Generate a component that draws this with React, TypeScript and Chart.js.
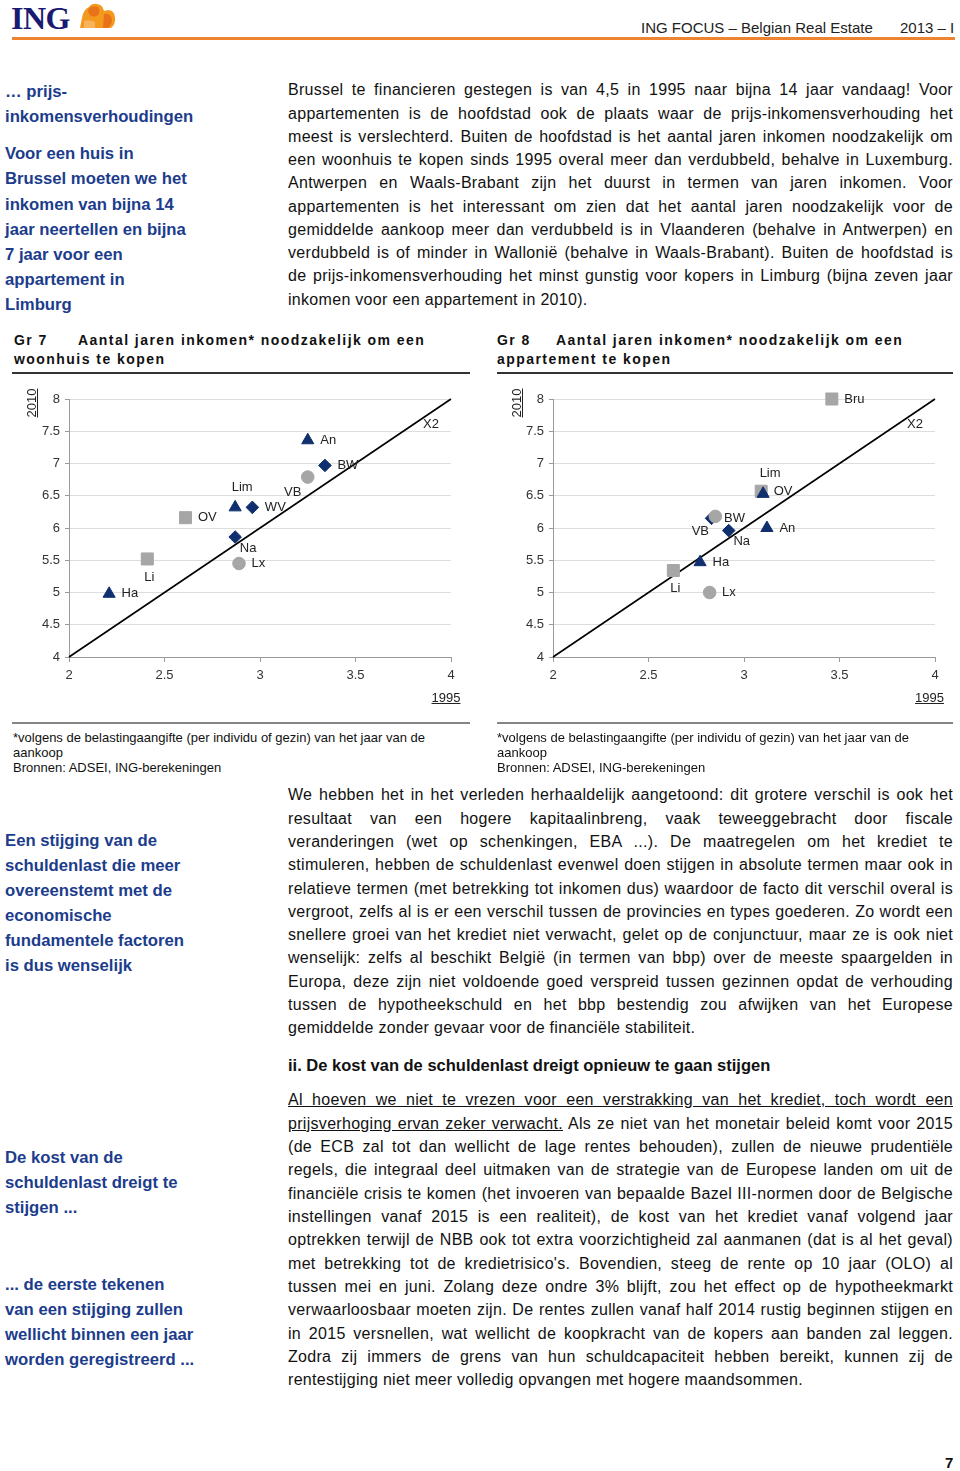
import React, { useEffect, useRef } from 'react';
import { Chart, registerables } from 'chart.js';

Chart.register(...registerables);

// ---------- chart data ----------
const xTickValues = [2, 2.5, 3, 3.5, 4];
const yTickValues = [4, 4.5, 5, 5.5, 6, 6.5, 7, 7.5, 8];

// Gr 7 – woonhuis (years of income, 1995 vs 2010)
const gr7Regions = ['Ha', 'Li', 'OV', 'Lim', 'WV', 'Na', 'Lx', 'VB', 'BW', 'An'];
const gr7Values1995 = [2.21, 2.41, 2.61, 2.87, 2.96, 2.87, 2.89, 3.25, 3.34, 3.25];
const gr7Values2010 = [4.98, 5.52, 6.16, 6.32, 6.32, 5.86, 5.45, 6.79, 6.97, 7.36];

// Gr 8 – appartement
const gr8Regions = ['Ha', 'Li', 'OV', 'Lim', 'Na', 'Lx', 'VB', 'BW', 'An', 'Bru'];
const gr8Values1995 = [2.77, 2.63, 3.09, 3.1, 2.92, 2.82, 2.85, 2.83, 3.12, 3.46];
const gr8Values2010 = [5.47, 5.34, 6.57, 6.53, 5.96, 5.0, 6.18, 6.15, 6.0, 8.0];

// doubling reference line (2010 = 2 x 1995)
const doublingLine1995 = [2, 4];
const doublingLine2010 = [4, 8];
const doublingLabel = 'X2';

const markerGroups = ['triangle', 'square', 'diamond', 'circle'];
const regionGroup: Record<string, string> = {
  Ha: 'triangle', Lim: 'triangle', An: 'triangle',
  Li: 'square', OV: 'square', Bru: 'square',
  Na: 'diamond', WV: 'diamond', BW: 'diamond',
  Lx: 'circle', VB: 'circle',
};
const regionLabelSide: Record<string, string> = {
  Ha: 'right', Li: 'below', OV: 'right', Lim: 'above', WV: 'right', Na: 'belowRight',
  Lx: 'right', VB: 'belowLeft', BW: 'right', An: 'right', Bru: 'right',
};

// ---------- styles ----------
const NAVY = '#0f2f6e';
const GRAY = '#a6a6a6';
const FONT = '"Liberation Sans", Arial, Helvetica, sans-serif';
const BLUE_HEAD = '#1c3c8c';

const groupStyle: Record<string, any> = {
  triangle: { pointStyle: 'triangle', radius: 7, color: NAVY, order: 1 },
  square: { pointStyle: 'rect', radius: 8.5, color: GRAY, order: 3 },
  diamond: { pointStyle: 'rectRot', radius: 6.3, color: NAVY, order: 2 },
  circle: { pointStyle: 'circle', radius: 6.3, color: GRAY, order: 0 },
};

const sideOffsets: Record<string, { dx: number; dy: number; align: CanvasTextAlign }> = {
  right: { dx: 12.5, dy: 0, align: 'left' },
  below: { dx: 2, dy: 18, align: 'center' },
  above: { dx: 7, dy: -20, align: 'center' },
  belowRight: { dx: 13, dy: 11, align: 'center' },
  belowLeft: { dx: -15, dy: 15, align: 'center' },
  lineEnd: { dx: -20, dy: 25, align: 'center' },
};

const pointLabelPlugin = {
  id: 'pointLabels',
  afterDatasetsDraw(chart: any) {
    const ctx = chart.ctx;
    ctx.save();
    ctx.font = `13px ${FONT}`;
    ctx.fillStyle = '#222';
    ctx.textBaseline = 'middle';
    chart.data.datasets.forEach((ds: any, i: number) => {
      const names: string[] = ds.pointNames;
      if (!names) return;
      const meta = chart.getDatasetMeta(i);
      meta.data.forEach((el: any, j: number) => {
        const name = names[j];
        if (!name) return;
        const o = sideOffsets[ds.pointSides[j]];
        ctx.textAlign = o.align;
        ctx.fillText(name, el.x + o.dx, el.y + o.dy);
      });
    });
    ctx.restore();
  },
};

function ScatterChart(props: {
  regions: string[]; v1995: number[]; v2010: number[];
  left: number; top: number; width: number; height: number;
  yAxisWidth: number; padTop: number; padRight: number; xAxisHeight: number;
}) {
  const ref = useRef<HTMLCanvasElement>(null);
  useEffect(() => {
    const { regions, v1995, v2010 } = props;
    const datasets: any[] = [];
    markerGroups.forEach((g) => {
      const idx = regions.map((_, i) => i).filter((i) => regionGroup[regions[i]] === g);
      if (!idx.length) return;
      const gs = groupStyle[g];
      datasets.push({
        data: idx.map((i) => ({ x: v1995[i], y: v2010[i] })),
        pointNames: idx.map((i) => regions[i]),
        pointSides: idx.map((i) => regionLabelSide[regions[i]]),
        pointStyle: gs.pointStyle,
        pointRadius: gs.radius,
        pointHoverRadius: gs.radius,
        backgroundColor: gs.color,
        borderColor: gs.color,
        pointBorderWidth: 1,
        order: gs.order,
        clip: false,
      });
    });
    datasets.push({
      data: doublingLine1995.map((v, i) => ({ x: v, y: doublingLine2010[i] })),
      showLine: true,
      borderColor: '#000',
      borderWidth: 1.6,
      pointRadius: 0,
      pointHoverRadius: 0,
      fill: false,
      pointNames: ['', doublingLabel],
      pointSides: ['', 'lineEnd'],
      order: 5,
      clip: false,
    });
    const tickFont = { size: 13, family: FONT };
    const chart = new Chart(ref.current as HTMLCanvasElement, {
      type: 'scatter',
      data: { datasets },
      plugins: [pointLabelPlugin],
      options: {
        animation: false,
        responsive: false,
        maintainAspectRatio: false,
        layout: { padding: { top: props.padTop, right: props.padRight, left: 0, bottom: 0 } },
        plugins: { legend: { display: false }, tooltip: { enabled: false } },
        scales: {
          x: {
            type: 'linear',
            min: 2,
            max: 4,
            afterBuildTicks: (s: any) => { s.ticks = xTickValues.map((v) => ({ value: v })); },
            afterFit: (s: any) => { s.height = props.xAxisHeight; },
            ticks: { color: '#333', font: tickFont, padding: 6, maxRotation: 0, callback: (v: any) => String(v) },
            grid: { drawOnChartArea: false, drawTicks: true, tickLength: 5, color: '#9a9a9a' },
            border: { color: '#9a9a9a', width: 1 },
          },
          y: {
            type: 'linear',
            min: 4,
            max: 8,
            afterBuildTicks: (s: any) => { s.ticks = yTickValues.map((v) => ({ value: v })); },
            afterFit: (s: any) => { s.width = props.yAxisWidth; },
            ticks: { color: '#333', font: tickFont, padding: 5, callback: (v: any) => String(v) },
            grid: { color: '#dddddd', tickColor: '#9a9a9a', tickLength: 4, lineWidth: 1 },
            border: { color: '#9a9a9a', width: 1 },
          },
        },
      } as any,
    });
    return () => chart.destroy();
  }, []);
  return (
    <canvas
      ref={ref}
      width={props.width}
      height={props.height}
      style={{ position: 'absolute', left: props.left, top: props.top, width: props.width, height: props.height }}
    />
  );
}

// ---------- page text ----------
const topPara = [
  'Brussel te financieren gestegen is van 4,5 in 1995 naar bijna 14 jaar vandaag! Voor',
  'appartementen is de hoofdstad ook de plaats waar de prijs-inkomensverhouding het',
  'meest is verslechterd. Buiten de hoofdstad is het aantal jaren inkomen noodzakelijk om',
  'een woonhuis te kopen sinds 1995 overal meer dan verdubbeld, behalve in Luxemburg.',
  'Antwerpen en Waals-Brabant zijn het duurst in termen van jaren inkomen. Voor',
  'appartementen is het interessant om zien dat het aantal jaren noodzakelijk voor de',
  'gemiddelde aankoop meer dan verdubbeld is in Vlaanderen (behalve in Antwerpen) en',
  'verdubbeld is of minder in Wallonië (behalve in Waals-Brabant). Buiten de hoofdstad is',
  'de prijs-inkomensverhouding het minst gunstig voor kopers in Limburg (bijna zeven jaar',
  'inkomen voor een appartement in 2010).',
];

const midPara = [
  'We hebben het in het verleden herhaaldelijk aangetoond: dit grotere verschil is ook het',
  'resultaat van een hogere kapitaalinbreng, vaak teweeggebracht door fiscale',
  'veranderingen (wet op schenkingen, EBA ...). De maatregelen om het krediet te',
  'stimuleren, hebben de schuldenlast evenwel doen stijgen in absolute termen maar ook in',
  'relatieve termen (met betrekking tot inkomen dus) waardoor de facto dit verschil overal is',
  'vergroot, zelfs al is er een verschil tussen de provincies en types goederen. Zo wordt een',
  'snellere groei van het krediet niet verwacht, gelet op de conjunctuur, maar ze is ook niet',
  'wenselijk: zelfs al beschikt België (in termen van bbp) over de meeste spaargelden in',
  'Europa, deze zijn niet voldoende goed verspreid tussen gezinnen opdat de verhouding',
  'tussen de hypotheekschuld en het bbp bestendig zou afwijken van het Europese',
  'gemiddelde zonder gevaar voor de financiële stabiliteit.',
];

const botParaRest = [
  '(de ECB zal tot dan wellicht de lage rentes behouden), zullen de nieuwe prudentiële',
  'regels, die integraal deel uitmaken van de strategie van de Europese landen om uit de',
  'financiële crisis te komen (het invoeren van bepaalde Bazel III-normen door de Belgische',
  'instellingen vanaf 2015 is een realiteit), de kost van het krediet vanaf volgend jaar',
  'optrekken terwijl de NBB ook tot extra voorzichtigheid zal aanmanen (dat is al het geval)',
  "met betrekking tot de kredietrisico's. Bovendien, steeg de rente op 10 jaar (OLO) al",
  'tussen mei en juni. Zolang deze ondre 3% blijft, zou het effect op de hypotheekmarkt',
  'verwaarloosbaar moeten zijn. De rentes zullen vanaf half 2014 rustig beginnen stijgen en',
  'in 2015 versnellen, wat wellicht de koopkracht van de kopers aan banden zal leggen.',
  'Zodra zij immers de grens van hun schuldcapaciteit hebben bereikt, kunnen zij de',
  'rentestijging niet meer volledig opvangen met hogere maandsommen.',
];

const BODY_FS = 16;
const BODY_LS = 0.3;

function TLine(p: { lh: number; justify: boolean; children: any }) {
  return (
    <div
      style={{
        height: p.lh,
        lineHeight: p.lh + 'px',
        textAlign: p.justify ? 'justify' : 'left',
        textAlignLast: p.justify ? 'justify' : 'left',
        whiteSpace: 'normal',
      } as any}
    >
      {p.children}
    </div>
  );
}

function Para(p: { top: number; lh: number; lines: string[]; justifyLast?: boolean }) {
  return (
    <div
      style={{
        position: 'absolute', left: 288, top: p.top, width: 665,
        fontSize: BODY_FS, letterSpacing: BODY_LS, color: '#111',
      }}
    >
      {p.lines.map((t, i) => (
        <TLine key={i} lh={p.lh} justify={i < p.lines.length - 1 || !!p.justifyLast}>{t}</TLine>
      ))}
    </div>
  );
}

function SideBlock(p: { top: number; lines: string[] }) {
  return (
    <div
      style={{
        position: 'absolute', left: 5, top: p.top, width: 275,
        fontSize: 16.7, fontWeight: 'bold', color: BLUE_HEAD, lineHeight: '25.1px',
      }}
    >
      {p.lines.map((t, i) => (<div key={i} style={{ height: 25.1, whiteSpace: 'nowrap' }}>{t}</div>))}
    </div>
  );
}

function ChartTitle(p: { left: number; num: string; numWidth: number; line1: string; line2: string }) {
  return (
    <div
      style={{
        position: 'absolute', left: p.left, top: 330.5, width: 470, fontSize: 14, fontWeight: 'bold',
        letterSpacing: 1.45, lineHeight: '19px', color: '#111', whiteSpace: 'nowrap',
      }}
    >
      <div>
        <span style={{ display: 'inline-block', width: p.numWidth }}>{p.num}</span>
        {p.line1}
      </div>
      <div>{p.line2}</div>
    </div>
  );
}

function Footnote(p: { left: number }) {
  return (
    <div
      style={{
        position: 'absolute', left: p.left, top: 729.5, width: 460, fontSize: 13,
        lineHeight: '15px', color: '#111', whiteSpace: 'nowrap',
      }}
    >
      <div>*volgens de belastingaangifte (per individu of gezin) van het jaar van de</div>
      <div>aankoop</div>
      <div>Bronnen: ADSEI, ING-berekeningen</div>
    </div>
  );
}

function AxisTag(p: { cx: number; cy: number; text: string; rotate?: boolean }) {
  return (
    <div
      style={{
        position: 'absolute', left: p.cx - 20, top: p.cy - 7, width: 40, height: 14,
        textAlign: 'center', fontSize: 13, lineHeight: '14px', color: '#222',
        transform: p.rotate ? 'rotate(-90deg)' : undefined,
      }}
    >
      <span style={{ textDecoration: 'underline' }}>{p.text}</span>
    </div>
  );
}

function Rule(p: { left: number; top: number; width: number; h: number; color: string }) {
  return <div style={{ position: 'absolute', left: p.left, top: p.top, width: p.width, height: p.h, background: p.color }} />;
}

export default function App() {
  return (
    <div
      style={{
        position: 'absolute', left: 0, top: 0, width: 960, height: 1471, overflow: 'hidden',
        background: '#fff', fontFamily: FONT, color: '#111',
      }}
    >
      {/* header */}
      <div
        style={{
          position: 'absolute', left: 11, top: 1, fontFamily: '"Liberation Serif", "Times New Roman", serif',
          fontWeight: 'bold', fontSize: 32, color: '#1a1a72', lineHeight: '34px', letterSpacing: -0.5,
        }}
      >
        ING
      </div>
      <svg style={{ position: 'absolute', left: 77, top: 2 }} width="40" height="27" viewBox="0 0 40 27">
        <path d="M3 26 L5 16 Q6 8 12 5 Q15 1 20 2 Q26 3 27 9 L31 8 Q37 8 38 15 Q39 22 34 26 Z" fill="#f39a1e" />
        <path d="M12 6 Q16 3 21 5 Q24 9 21 13 Q17 16 13 13 Q10 10 12 6 Z" fill="#e8731a" />
        <path d="M7 19 Q12 17 18 20 L18 26 L7 26 Z" fill="#f7b45a" />
        <path d="M27 12 Q33 11 35 17 Q35 23 31 26 L26 26 Z" fill="#e8731a" />
      </svg>
      <div style={{ position: 'absolute', left: 641, top: 19, fontSize: 15, lineHeight: '18px', color: '#222', whiteSpace: 'nowrap' }}>
        ING FOCUS – Belgian Real Estate
      </div>
      <div style={{ position: 'absolute', left: 900, top: 19, fontSize: 15, lineHeight: '18px', color: '#222', whiteSpace: 'nowrap' }}>
        2013 – I
      </div>
      <Rule left={12} top={37} width={943} h={2.5} color="#ee8330" />

      {/* side headings */}
      <SideBlock top={78.5} lines={['… prijs-', 'inkomensverhoudingen']} />
      <SideBlock
        top={141.4}
        lines={['Voor een huis in', 'Brussel moeten we het', 'inkomen van bijna 14', 'jaar neertellen en bijna', '7 jaar voor een', 'appartement in', 'Limburg']}
      />
      <SideBlock
        top={827.5}
        lines={['Een stijging van de', 'schuldenlast die meer', 'overeenstemt met de', 'economische', 'fundamentele factoren', 'is dus wenselijk']}
      />
      <SideBlock top={1144.5} lines={['De kost van de', 'schuldenlast dreigt te', 'stijgen ...']} />
      <SideBlock top={1271.5} lines={['... de eerste tekenen', 'van een stijging zullen', 'wellicht binnen een jaar', 'worden geregistreerd ...']} />

      {/* top paragraph */}
      <Para top={78.4} lh={23.25} lines={topPara} />

      {/* charts */}
      <ChartTitle left={14} num="Gr 7" numWidth={64} line1="Aantal jaren inkomen* noodzakelijk om een" line2="woonhuis te kopen" />
      <ChartTitle left={497} num="Gr 8" numWidth={59} line1="Aantal jaren inkomen* noodzakelijk om een" line2="appartement te kopen" />
      <Rule left={12} top={372} width={458} h={1.5} color="#333" />
      <Rule left={497} top={372} width={456} h={1.5} color="#333" />

      <ScatterChart
        regions={gr7Regions} v1995={gr7Values1995} v2010={gr7Values2010}
        left={0} top={380} width={480} height={330}
        yAxisWidth={69} padTop={19} padRight={29} xAxisHeight={53}
      />
      <ScatterChart
        regions={gr8Regions} v1995={gr8Values1995} v2010={gr8Values2010}
        left={483} top={380} width={477} height={330}
        yAxisWidth={70} padTop={19} padRight={25} xAxisHeight={53}
      />
      <AxisTag cx={32} cy={402.5} text="2010" rotate />
      <AxisTag cx={446} cy={698} text="1995" />
      <AxisTag cx={516.5} cy={402.5} text="2010" rotate />
      <AxisTag cx={929.5} cy={698} text="1995" />

      <Rule left={12} top={722} width={458} h={2} color="#858585" />
      <Rule left={497} top={722} width={456} h={2} color="#858585" />
      <Footnote left={13} />
      <Footnote left={497} />

      {/* middle paragraph */}
      <Para top={783.35} lh={23.3} lines={midPara} />

      {/* section heading */}
      <div style={{ position: 'absolute', left: 288, top: 1053.5, fontSize: 16.5, fontWeight: 'bold', lineHeight: '23px', color: '#111', whiteSpace: 'nowrap' }}>
        ii. De kost van de schuldenlast dreigt opnieuw te gaan stijgen
      </div>

      {/* bottom paragraph */}
      <div style={{ position: 'absolute', left: 288, top: 1088.3, width: 665, fontSize: BODY_FS, letterSpacing: BODY_LS, color: '#111' }}>
        <TLine lh={23.33} justify>
          <span style={{ textDecoration: 'underline' }}>
            Al hoeven we niet te vrezen voor een verstrakking van het krediet, toch wordt een
          </span>
        </TLine>
        <TLine lh={23.33} justify>
          <span style={{ textDecoration: 'underline' }}>prijsverhoging ervan zeker verwacht.</span> Als ze niet van het monetair beleid komt voor 2015
        </TLine>
        {botParaRest.map((t, i) => (
          <TLine key={i} lh={23.33} justify={i < botParaRest.length - 1}>{t}</TLine>
        ))}
      </div>

      {/* page number */}
      <div style={{ position: 'absolute', left: 945, top: 1455, fontSize: 15, fontWeight: 'bold', lineHeight: '16px', color: '#111' }}>
        7
      </div>
    </div>
  );
}
